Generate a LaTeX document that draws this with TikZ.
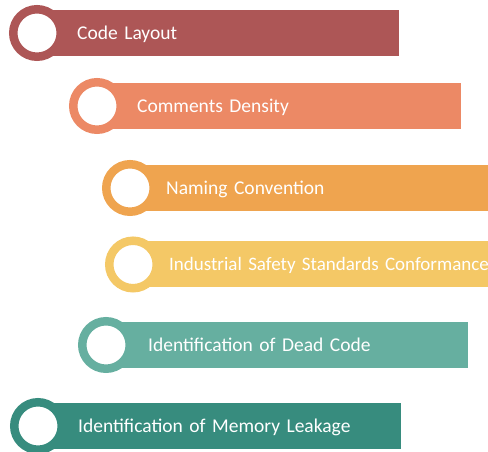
\documentclass[tikz,border=0pt]{standalone}
\usepackage{fontspec}
\setmainfont{Carlito}
\definecolor{layoutred}{HTML}{AD5656}
\definecolor{commentorange}{HTML}{EC8965}
\definecolor{namingorange}{HTML}{EFA44F}
\definecolor{safetyyellow}{HTML}{F4C866}
\definecolor{deadgreen}{HTML}{66AFA0}
\definecolor{leakgreen}{HTML}{378C7E}
\protected\def\barfont{\fontsize{19.5}{22}\selectfont\spaceskip=3.4pt plus 1pt minus 0.5pt\relax}
\protected\def\smallbarfont{\fontsize{19}{22}\selectfont\spaceskip=3.3pt plus 1pt minus 0.5pt\relax}
\tikzset{
  bar/.style={fill=#1, anchor=west, inner xsep=40pt, inner ysep=0pt, minimum height=46pt,
    align=left, text=white, text height=14.6pt, text depth=2pt, font=\barfont},
  ring/.style={circle, draw=#1, line width=8.5pt, fill=white, minimum size=47.5pt, inner sep=0pt}
}
\begin{document}
\begin{tikzpicture}[x=1pt,y=1pt]
\useasboundingbox (0,0) rectangle (488,452);

\node[bar=layoutred, text width=282pt] (bar1) at (37,419) {Code Layout};
\node[ring=layoutred] (ring1) at (bar1.west) {};

\node[bar=commentorange, text width=284pt] (bar2) at (97,346) {Comments Density};
\node[ring=commentorange] (ring2) at (bar2.west) {};

\node[bar=namingorange, inner xsep=36pt, text width=318pt] (bar3) at (130,264) {Naming Convention};
\node[ring=namingorange] (ring3) at (bar3.west) {};

\node[bar=safetyyellow, inner xsep=36pt, text width=355pt, font=\smallbarfont] (bar4) at (133,187.5) {Industrial Safety Standards Conformance};
\node[ring=safetyyellow] (ring4) at (bar4.west) {};

\node[bar=deadgreen, inner xsep=42pt, text width=278pt] (bar5) at (106,107) {Identification of Dead Code};
\node[ring=deadgreen] (ring5) at (bar5.west) {};

\node[bar=leakgreen, text width=283pt] (bar6) at (38,26) {Identification of Memory Leakage};
\node[ring=leakgreen] (ring6) at (bar6.west) {};

\end{tikzpicture}
\end{document}
